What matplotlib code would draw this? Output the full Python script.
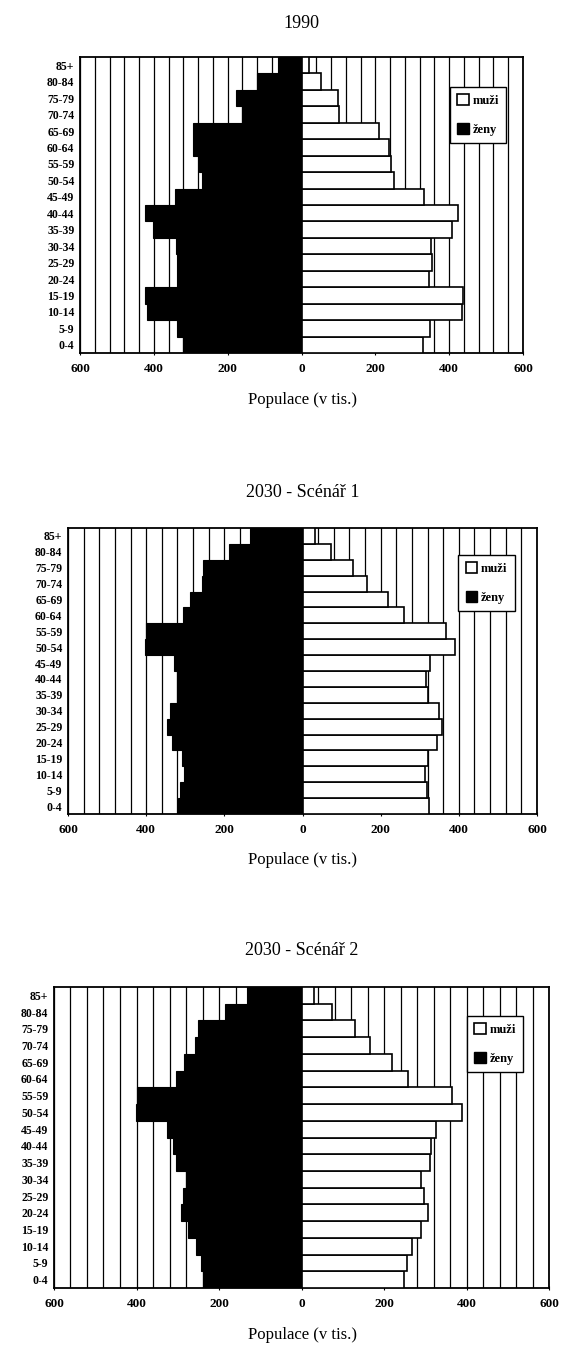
import numpy as np
import matplotlib
matplotlib.use("Agg")
import matplotlib.pyplot as plt
from matplotlib.patches import Patch
from matplotlib.ticker import FuncFormatter

age_groups = ["0-4", "5-9", "10-14", "15-19", "20-24", "25-29", "30-34", "35-39",
              "40-44", "45-49", "50-54", "55-59", "60-64", "65-69", "70-74",
              "75-79", "80-84", "85+"]

titles = ["1990", "2030 - Scénář 1", "2030 - Scénář 2"]

# values in thousands, ordered from 0-4 up to 85+
zeny_1990 = [320, 336, 419, 423, 336, 338, 340, 403, 423, 342, 270, 277, 293, 293, 162, 177, 120, 63]
muzi_1990 = [328, 348, 434, 438, 346, 353, 350, 409, 423, 332, 251, 242, 238, 209, 101, 98, 53, 20]

zeny_s1 = [318, 314, 303, 309, 333, 346, 340, 320, 322, 329, 404, 400, 306, 288, 258, 254, 188, 135]
muzi_s1 = [324, 318, 313, 320, 344, 356, 348, 321, 317, 326, 390, 367, 260, 219, 166, 130, 73, 32]

zeny_s2 = [240, 244, 256, 274, 293, 288, 280, 304, 312, 327, 402, 398, 304, 286, 258, 252, 185, 133]
muzi_s2 = [249, 256, 269, 290, 306, 298, 290, 311, 315, 326, 390, 366, 259, 219, 166, 129, 73, 31]

W, H = 564, 1348
fig = plt.figure(figsize=(W / 100, H / 100), dpi=100)

serif = ["Liberation Serif", "DejaVu Serif"]

# axes frames in pixel coords: x0, x1, y0 (top), y1 (bottom)
frames = [(80, 523, 57, 353), (68, 537, 528, 814), (54, 549, 987, 1288)]
title_pads = [21, 22, 23]
legend_anchor = [(0.835, 0.899), (0.832, 0.906), (0.834, 0.904)]
xlabel_y = [400, 860, 1335]

data = [(zeny_1990, muzi_1990), (zeny_s1, muzi_s1), (zeny_s2, muzi_s2)]

y = np.arange(len(age_groups))

for i, ((zeny, muzi), (x0, x1, y0, y1)) in enumerate(zip(data, frames)):
    ax = fig.add_axes([x0 / W, 1 - y1 / H, (x1 - x0) / W, (y1 - y0) / H])
    ax.barh(y, -np.array(zeny), height=1.0, color="black", edgecolor="black",
            linewidth=0.8, zorder=3, label="ženy")
    ax.barh(y, muzi, height=1.0, color="white", edgecolor="black",
            linewidth=1.2, zorder=3, label="muži")
    ax.set_xlim(-600, 600)
    ax.set_ylim(-0.5, len(age_groups) - 0.5)

    ax.set_xticks(np.arange(-600, 601, 200))
    ax.set_xticks(np.arange(-600, 601, 40), minor=True)
    ax.xaxis.set_major_formatter(FuncFormatter(lambda v, p: f"{abs(int(v))}"))
    ax.grid(which="minor", axis="x", color="black", linewidth=0.9, zorder=0)
    ax.grid(which="major", axis="x", color="black", linewidth=0.9, zorder=0)
    ax.set_axisbelow(True)
    ax.tick_params(axis="x", which="minor", length=0)
    ax.tick_params(axis="x", which="major", length=3, direction="inout", pad=6)
    ax.set_yticks(y)
    ax.set_yticklabels(age_groups)
    ax.tick_params(axis="y", length=0, pad=4)
    for lab in ax.get_xticklabels():
        lab.set_fontfamily(serif)
        lab.set_fontweight("bold")
        lab.set_fontsize(9.5)
    for lab in ax.get_yticklabels():
        lab.set_fontfamily(serif)
        lab.set_fontweight("bold")
        lab.set_fontsize(8.5)
    for sp in ax.spines.values():
        sp.set_linewidth(1.3)
        sp.set_color("black")

    ax.set_title(titles[i], fontfamily=serif, fontsize=13, pad=title_pads[i])
    fig.text(302 / W, 1 - xlabel_y[i] / H, "Populace (v tis.)", fontfamily=serif,
             fontsize=12, ha="center", va="center")

    handles = [Patch(facecolor="white", edgecolor="black", linewidth=1.2),
               Patch(facecolor="black", edgecolor="black")]
    leg = ax.legend(handles, ["muži", "ženy"], loc="upper left",
                    bbox_to_anchor=legend_anchor[i], borderaxespad=0,
                    frameon=True, fancybox=False, edgecolor="black",
                    handlelength=0.9, handleheight=0.9, handletextpad=0.3,
                    labelspacing=1.3, borderpad=0.6,
                    prop={"family": serif, "weight": "bold", "size": 9})
    leg.get_frame().set_linewidth(1.0)
    leg.get_frame().set_alpha(1)
    leg.set_zorder(5)

fig.savefig("out.png", dpi=100, facecolor="white")
